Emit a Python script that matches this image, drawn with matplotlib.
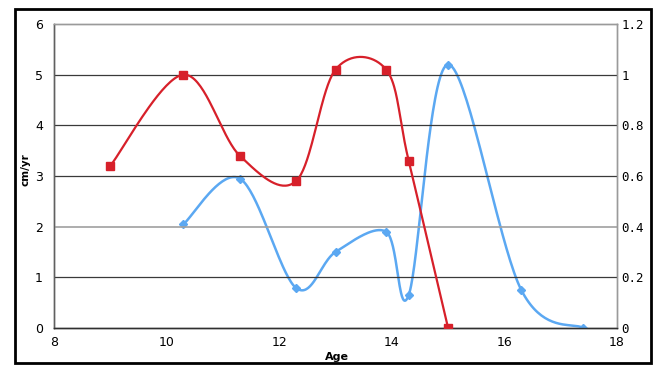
import numpy as np
import matplotlib
matplotlib.use('Agg')
import matplotlib.pyplot as plt
from matplotlib.patches import Rectangle

# data
red_age = [9.0, 10.3, 11.3, 12.3, 13.0, 13.9, 14.3, 15.0]
red_rate = [3.2, 5.0, 3.4, 2.9, 5.1, 5.1, 3.3, 0.0]          # cm/yr, left axis
blue_age = [10.3, 11.3, 12.3, 13.0, 13.9, 14.3, 15.0, 16.3, 17.4]
blue_rate = [0.41, 0.59, 0.158, 0.30, 0.38, 0.13, 1.04, 0.15, 0.0]  # right axis

x_ticks = [8, 10, 12, 14, 16, 18]
left_ticks = [0, 1, 2, 3, 4, 5, 6]
right_ticks = [0, 0.2, 0.4, 0.6, 0.8, 1, 1.2]
right_labels = ['0', '0.2', '0.4', '0.6', '0.8', '1', '1.2']

RED = '#d7202a'
BLUE = '#5ba8f2'


def smooth(x, y, sx, sy, n=40):
    '''Excel-like smoothed line: Catmull-Rom bezier in screen-ish units'''
    p = np.column_stack([np.asarray(x) * sx, np.asarray(y) * sy])
    pts = [p[0]]
    for i in range(len(p) - 1):
        p0 = p[i - 1] if i > 0 else p[i]
        p3 = p[i + 2] if i + 2 < len(p) else p[i + 1]
        c1 = p[i] + (p[i + 1] - p0) / 6
        c2 = p[i + 1] - (p3 - p[i]) / 6
        t = np.linspace(0, 1, n)[1:, None]
        seg = ((1 - t) ** 3 * p[i] + 3 * (1 - t) ** 2 * t * c1
               + 3 * (1 - t) * t ** 2 * c2 + t ** 3 * p[i + 1])
        pts.extend(seg)
    pts = np.array(pts)
    return pts[:, 0] / sx, pts[:, 1] / sy


fig = plt.figure(figsize=(6.6, 3.65), dpi=100)
ax = fig.add_axes([54 / 660, 1 - 328 / 365, 563 / 660, 304 / 365])
ax2 = ax.twinx()

# pixel scale of the plot area, used for the smoothing
sx = 563 / 10
sy = 304 / 6

for yv in left_ticks[1:]:
    ax.axhline(yv, color='#3a3a3a' if yv not in (2, 6) else '#a0a0a0',
               lw=0.9 if yv not in (2, 6) else 1.2, zorder=1)

bx, by = smooth(blue_age, blue_rate, sx, sy * 5)
ax2.plot(bx, by, color=BLUE, lw=1.8, zorder=3)
ax2.plot(blue_age, blue_rate, 'D', color=BLUE, ms=3.8, zorder=4)

rx, ry = smooth(red_age, red_rate, sx, sy)
ax.plot(rx, ry, color=RED, lw=1.6, zorder=3)
ax.plot(red_age, red_rate, 's', color=RED, ms=6, zorder=4)
ax.set_zorder(ax2.get_zorder() + 1)
ax.patch.set_visible(False)

ax.set_xlim(8, 18)
ax.set_ylim(0, 6)
ax2.set_ylim(0, 1.2)
ax.set_xticks(x_ticks)
ax.set_yticks(left_ticks)
ax2.set_yticks(right_ticks)
ax2.set_yticklabels(right_labels)

tick_font = ['Liberation Sans Narrow', 'DejaVu Sans']
ax.tick_params(axis='x', length=0, pad=6, labelsize=9)
ax.tick_params(axis='y', length=0, pad=8, labelsize=9)
ax2.tick_params(axis='y', length=0, pad=3, labelsize=9)
for lab in ax.get_xticklabels() + ax.get_yticklabels():
    lab.set_family(tick_font)
for lab in ax2.get_yticklabels():
    lab.set_family(['DejaVu Sans Mono'])

for a in (ax, ax2):
    a.spines['top'].set_color('#9a9a9a')
    a.spines['right'].set_color('#9a9a9a')
    a.spines['left'].set_color('#606060')
    a.spines['bottom'].set_color('#303030')
    for s in a.spines.values():
        s.set_linewidth(1.0)

fig.text(26 / 660, 1 - 170 / 365, 'cm/yr', rotation=90, ha='center', va='center',
         fontsize=7.5, fontweight='bold')
fig.text(337 / 660, 1 - 357 / 365, 'Age', ha='center', va='center',
         fontsize=8, fontweight='bold')

fig.patches.append(Rectangle((15 / 660, 1 - 363 / 365), 636 / 660, 354 / 365,
                             transform=fig.transFigure, fill=False,
                             edgecolor='black', lw=2))

plt.savefig('out.png', dpi=100)
